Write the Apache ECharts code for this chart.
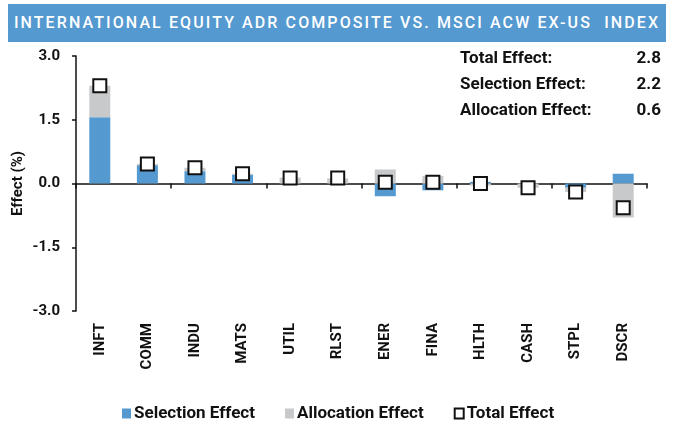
<!DOCTYPE html>
<html>
<head>
<meta charset="utf-8">
<script src="https://cdn.jsdelivr.net/npm/echarts@6/dist/echarts.min.js"></script>
<style>
  html, body { margin: 0; padding: 0; background: #fff; }
  #wrap { position: relative; width: 673px; height: 423px; }
  #banner {
    position: absolute; left: 8px; top: 4px; width: 658px; height: 38px;
    background: #5499d0; color: #fff;
    font-family: Roboto, sans-serif; font-size: 16px; font-weight: 500;
    letter-spacing: 2.1px; line-height: 38px; text-align: center;
    white-space: nowrap;
  }
  #chart { position: absolute; left: 0; top: 0; width: 673px; height: 423px; }
</style>
</head>
<body>
<div id="wrap">
  <div id="chart"></div>
  <div id="banner">INTERNATIONAL EQUITY ADR COMPOSITE VS. MSCI ACW EX-US&nbsp; INDEX</div>
</div>
<script>
// sectors and effects (%)
const sectors = ["INFT", "COMM", "INDU", "MATS", "UTIL", "RLST", "ENER", "FINA", "HLTH", "CASH", "STPL", "DSCR"];
const selectionEffect = [1.56, 0.43, 0.29, 0.20, 0.0, 0.0, -0.30, -0.16, 0.04, 0.0, -0.10, 0.23];
const allocationEffect = [0.74, 0.03, 0.08, 0.03, 0.14, 0.12, 0.33, 0.18, -0.05, -0.10, -0.10, -0.80];
const totalEffect = [2.30, 0.46, 0.37, 0.23, 0.13, 0.13, 0.03, 0.03, 0.0, -0.10, -0.20, -0.57];
const yTicks = [-3.0, -1.5, 0.0, 1.5, 3.0];
const summaryLabels = ["Total Effect:", "Selection Effect:", "Allocation Effect:"];
const summaryValues = ["2.8", "2.2", "0.6"];

const FONT = "Roboto, sans-serif";
const BLUE = "#5499d0";
const GRAY = "#c8c9cb";

const chart = echarts.init(document.getElementById("chart"), null, { renderer: "canvas" });

// summary box in the top right
const summary = [];
summaryLabels.forEach((label, i) => {
  summary.push({
    type: "text", left: 460, top: 50 + i * 26,
    style: { text: label, font: "bold 17px " + FONT, fill: "#111" },
  });
  summary.push({
    type: "text", right: 12, top: 50 + i * 26,
    style: { text: summaryValues[i], font: "bold 17px " + FONT, fill: "#111", align: "right" },
  });
});

const option = {
  animation: false,
  grid: { left: 76, right: 26, top: 56, bottom: 112 },
  legend: {
    bottom: -4,
    left: 117,
    itemWidth: 9,
    itemHeight: 10,
    itemGap: 30,
    textStyle: { fontFamily: FONT, fontSize: 17, fontWeight: "bold", color: "#111", padding: [0, 0, 0, -2] },
    data: [
      { name: "Selection Effect", icon: "rect" },
      { name: "Allocation Effect", icon: "rect" },
      { name: "Total Effect", icon: "rect", itemStyle: { color: "#fff", borderColor: "#111", borderWidth: 2 } },
    ],
  },
  xAxis: [
    {
      type: "category",
      data: sectors,
      position: "bottom",
      axisLine: { show: false, onZero: false },
      axisTick: { show: false },
      axisLabel: {
        rotate: 90,
        margin: 12,
        fontFamily: FONT,
        fontSize: 15,
        fontWeight: "bold",
        color: "#111",
      },
    },
    {
      type: "category",
      data: sectors,
      position: "bottom",
      axisLine: { show: true, onZero: true, lineStyle: { color: "#111", width: 1.5 } },
      axisTick: { show: true, inside: false, length: 5, lineStyle: { color: "#111", width: 1.5 } },
      axisLabel: { show: false },
    },
  ],
  yAxis: {
    type: "value",
    min: -3,
    max: 3,
    interval: 1.5,
    name: "Effect (%)",
    nameLocation: "middle",
    nameGap: 50,
    nameMoveOverlap: false,
    nameTextStyle: { fontFamily: FONT, fontSize: 15, fontWeight: "bold", color: "#111" },
    axisLine: { show: true, lineStyle: { color: "#111", width: 1.5 } },
    axisTick: { show: true, length: 4, lineStyle: { color: "#111", width: 1.5 } },
    splitLine: { show: false },
    axisLabel: {
      margin: 16,
      fontFamily: FONT,
      fontSize: 15,
      fontWeight: "bold",
      color: "#111",
      formatter: (v) => (yTicks.includes(v) ? v.toFixed(1) : ""),
    },
  },
  graphic: summary,
  series: [
    {
      name: "Selection Effect",
      type: "bar",
      stack: "effect",
      barWidth: 21,
      itemStyle: { color: BLUE },
      data: selectionEffect,
    },
    {
      name: "Allocation Effect",
      type: "bar",
      stack: "effect",
      barWidth: 21,
      itemStyle: { color: GRAY },
      data: allocationEffect,
    },
    {
      name: "Total Effect",
      type: "scatter",
      symbol: "rect",
      symbolSize: 13,
      itemStyle: { color: "#fff", borderColor: "#111", borderWidth: 2, opacity: 1 },
      z: 5,
      data: totalEffect,
    },
  ],
};

chart.setOption(option);
</script>
</body>
</html>
